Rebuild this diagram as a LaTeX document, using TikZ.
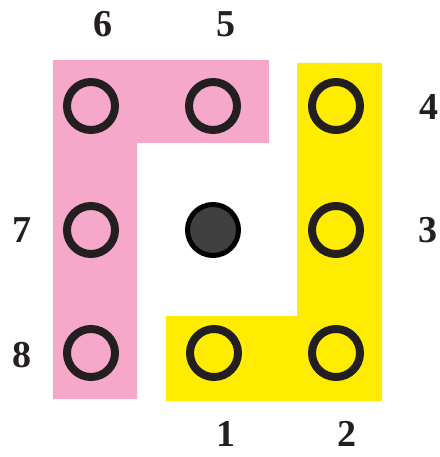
\documentclass[tikz,border=0pt]{standalone}
\usepackage{fontspec}
\setmainfont{Liberation Serif}
\usepackage{tikz}
\definecolor{padpink}{RGB}{245,168,202}
\definecolor{padyellow}{RGB}{255,236,0}
\definecolor{ringblack}{RGB}{35,31,32}
\definecolor{pingray}{RGB}{64,64,64}

\begin{document}
\begin{tikzpicture}[x=1pt, y=-1pt,
    hole/.style={circle, draw=ringblack, line width=8pt, minimum size=48pt, inner sep=0pt},
    pin/.style={circle, draw=black, fill=pingray, line width=5pt, minimum size=51pt, inner sep=0pt},
    num/.style={font=\fontsize{38}{38}\selectfont\bfseries, text=ringblack, inner sep=0pt}]
    \useasboundingbox (0, 0) rectangle (439, 457);
    \fill[padpink] (53, 60) -- (269, 60) -- (269, 143) -- (137, 143) -- (137, 399) -- (53, 399) -- cycle;
    \fill[padyellow] (297, 63) -- (382, 63) -- (382, 401) -- (166, 401) -- (166, 316) -- (297, 316) -- cycle;

    \node[hole] (h6) at (91, 106) {};
    \node[hole] (h5) at (213, 106) {};
    \node[hole] (h4) at (336, 106) {};
    \node[hole] (h7) at (91, 230) {};
    \node[hole] (h3) at (336, 230) {};
    \node[hole] (h8) at (91, 353) {};
    \node[hole] (h1) at (214, 353) {};
    \node[hole] (h2) at (336, 353) {};
    \node[pin] (c) at (213, 230) {};

    \node[num] (n6) at (103, 24) {6};
    \node[num] (n5) at (226, 24) {5};
    \node[num] (n4) at (429, 107) {4};
    \node[num] (n3) at (428, 230) {3};
    \node[num] (n7) at (22, 230) {7};
    \node[num] (n8) at (22, 355) {8};
    \node[num] (n1) at (226, 434) {1};
    \node[num] (n2) at (347, 434) {2};
  \end{tikzpicture}
\end{document}
